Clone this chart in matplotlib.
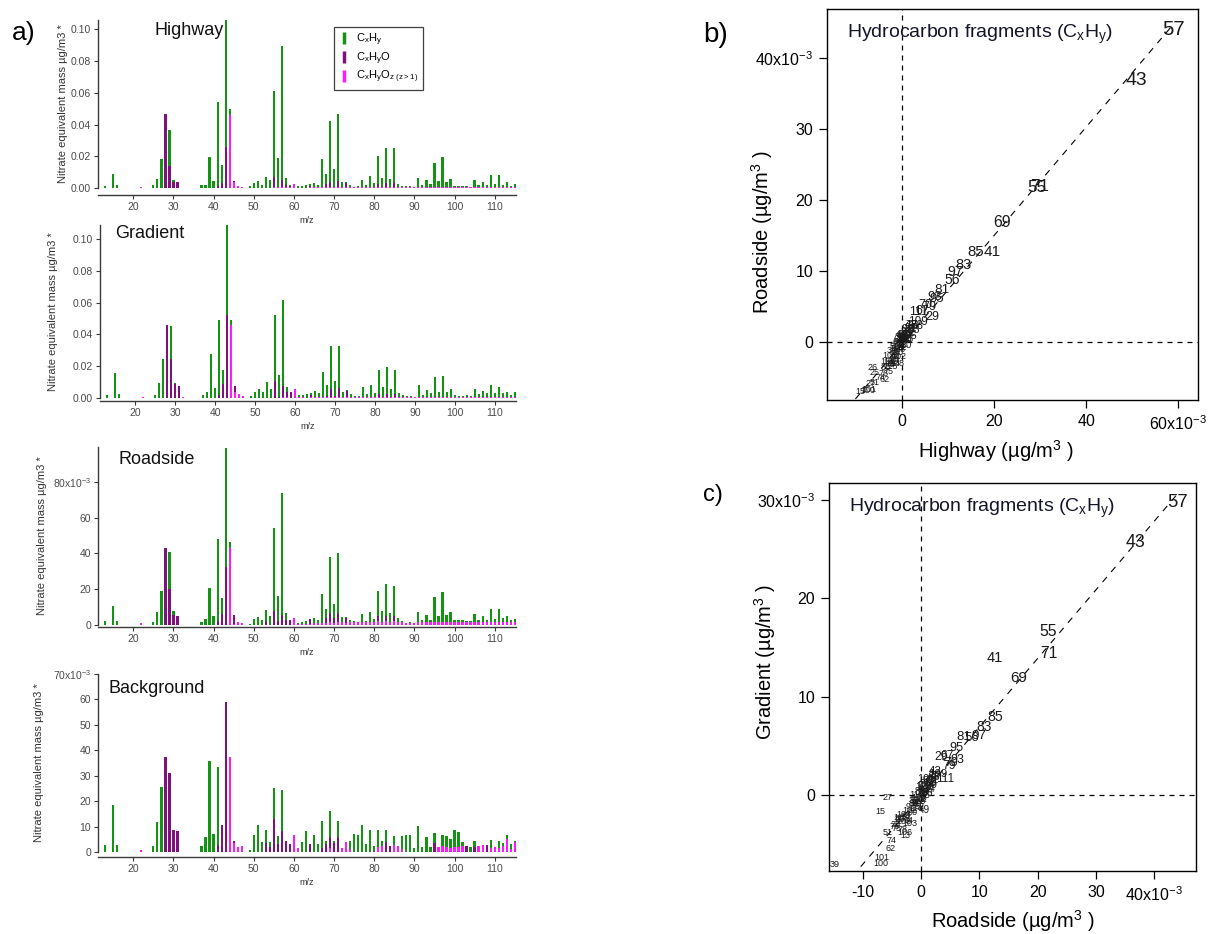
import numpy as np
import matplotlib
matplotlib.use('Agg')
import matplotlib.pyplot as plt
from matplotlib.lines import Line2D

plt.rcParams['font.family'] = ['Liberation Sans', 'DejaVu Sans']
plt.rcParams['mathtext.default'] = 'regular'

# m/z axis of the spectra (13..115)
mz = list(range(13, 116))

# spectra, units of 1e-3 ug/m3 (segment heights: CxHyOz bottom, CxHyO middle, CxHy top)
hwy_cxhy = [1, 0, 8.8, 1.7, 0, 0, 0,
            0, 0, 0, 0, 0, 1.7, 6, 18.3, 0, 23.2,
            0.8, 0, 0, 0, 0, 0, 0, 1.7, 2, 19.7,
            4.4, 53.2, 11.5, 80.9, 3.8, 0, 0, 0, 0, 1,
            3.2, 4.2, 1.9, 6.9, 5.2, 54.6, 18.4, 84.4, 4.5, 0.5,
            0, 1, 1, 2, 1.2, 2.7, 1.5, 17.6, 6.2, 38.7,
            11.2, 42.1, 3.6, 0.5, 1.2, 0.3, 0.5, 4.3, 1.5, 6.9,
            2.5, 17.7, 5.7, 21.8, 5.1, 21.8, 1.8, 0.8, 0.5, 0.5,
            0.2, 6, 1.5, 4.3, 2, 15.4, 3.7, 19.2, 3.1, 5.2,
            1, 0.5, 1, 1, 0.3, 4.6, 1.4, 3.5, 1.4, 7.8,
            2, 7.8, 1.5, 3.4, 1, 2]
hwy_cxhyo = [0, 0, 0, 0, 0, 0, 0,
             0, 0, 0, 0, 0, 0, 0, 0, 46.6, 13.6,
             4, 3.8, 0, 0, 0, 0, 0, 0, 0, 0,
             0, 1, 3, 25.8, 0, 0.5, 0, 0, 0, 0,
             0, 0, 0, 0, 0, 6.2, 0, 4.8, 1.5, 0.8,
             0, 0, 0, 0, 0.7, 0, 0, 0, 2, 3,
             0, 4, 0, 2.5, 0, 0, 0, 0, 0, 0,
             0, 2, 0, 2.8, 0, 2.7, 0, 0, 0, 0,
             0, 0, 0, 0, 0, 0, 0, 0, 0, 0,
             0, 0, 0, 0, 0, 0, 0, 0, 0, 0,
             0, 0, 0, 0, 0, 0]
hwy_cxhyoz = [0, 0, 0, 0, 0, 0, 0,
              0, 0, 0.6, 0, 0, 0, 0, 0, 0, 0,
              0, 0, 0, 0, 0, 0, 0, 0, 0, 0,
              0, 0, 0, 0, 46.2, 3.9, 1, 0.8, 0, 0,
              0, 0, 0, 0, 0, 0.5, 0.5, 0.5, 0.5, 0.4,
              2.7, 0, 0, 0, 0.5, 0.5, 0.5, 0.5, 0.5, 0.5,
              0.5, 0.5, 0.5, 0.5, 0.5, 0.5, 0.5, 0.5, 0.5, 0.5,
              0.5, 0.5, 0.5, 0.5, 0.5, 0.5, 0.5, 0.5, 0.5, 0.5,
              0.5, 0.5, 0.5, 0.5, 0.5, 0.5, 0.5, 0.5, 0.5, 0.5,
              0.5, 0.5, 0.5, 0.5, 0.5, 0.5, 0.5, 0.5, 0.5, 0.5,
              0.5, 0.5, 0.5, 0.5, 0.5, 0.5]

grd_cxhy = [2, 0, 16, 2.7, 0, 0, 0,
            0, 0, 0, 0, 0, 2, 9.6, 24.7, 0, 21,
            0.8, 0, 0, 0, 0, 0, 0, 2, 4, 27.9,
            6.5, 47.3, 9.3, 56.6, 3.3, 0.3, 0, 0, 0, 1,
            4, 5.9, 3.6, 9.8, 5.4, 42, 14.2, 53.9, 3.6, 0,
            0, 1.4, 1.5, 2.6, 1, 3.9, 2.4, 16.1, 7.4, 27.5,
            9.5, 26.4, 3.5, 0.5, 2, 1, 1, 6.2, 2.2, 7.7,
            2.6, 15.1, 6.2, 17.2, 5.2, 15.1, 2.4, 1.5, 0.5, 1,
            0.3, 7.7, 1.5, 4.5, 2.4, 13, 3.5, 13.6, 3.5, 5.2,
            1.4, 1, 1, 1.4, 1, 5.4, 1.8, 3.7, 2.4, 7.7,
            2.4, 6.6, 2.4, 3.5, 1.5, 3.3]
grd_cxhyo = [0, 0, 0, 0, 0, 0, 0,
             0, 0, 0, 0, 0, 0, 0, 0, 46.1, 24.5,
             8.8, 7.8, 0, 0, 0, 0, 0, 0, 0, 0,
             0, 2, 8.5, 52, 0, 4, 0, 0, 0, 0,
             0, 0, 0, 0, 0, 10.5, 0.5, 7, 3, 3.6,
             0, 0, 0, 0, 1.6, 0, 0, 0, 0.5, 5,
             0.5, 6, 0, 4.1, 0, 0, 0, 0, 0, 0,
             0, 2, 0, 2, 0, 2, 0, 0, 0, 0,
             0, 0, 0, 0, 0, 0, 0, 0, 0, 0,
             0, 0, 0, 0, 0, 0, 0, 0, 0, 0,
             0, 0, 0, 0, 0, 0]
grd_cxhyoz = [0, 0, 0, 0, 0, 0, 0,
              0, 0, 0.8, 0, 0, 0, 0, 0, 0, 0,
              0, 0, 0.5, 0, 0, 0, 0, 0, 0, 0,
              0, 0, 0, 0, 46, 3.5, 2.5, 1.5, 0, 0,
              0, 0, 0, 0, 0, 0, 0, 0.5, 0.5, 0,
              5.9, 0.5, 0.5, 0, 0.5, 0.5, 0.5, 0.5, 0.5, 0.5,
              0.5, 0.5, 0.5, 0.5, 0.5, 0.5, 0.5, 0.5, 0.5, 0.5,
              0.5, 0.5, 0.5, 0.5, 0.5, 0.5, 0.5, 0.5, 0.5, 0.5,
              0.5, 0.5, 0.5, 0.5, 0.5, 0.5, 0.5, 0.5, 0.5, 0.5,
              0.5, 0.5, 0.5, 0.5, 0.5, 0.5, 0.5, 0.5, 0.5, 0.5,
              0.5, 0.5, 0.5, 0.5, 0.5, 0.5]

rds_cxhy = [2.2, 0, 10.8, 2.2, 0, 0, 0,
            0, 0, 0, 0, 0, 1.7, 7.3, 19.1, 0, 20.4,
            2.2, 0, 0, 0, 0, 0, 0, 1.9, 3.4, 20.7,
            5, 45.9, 8.9, 66.3, 3.5, 0, 0, 0, 0, 0.7,
            3.6, 4.5, 2.8, 6.5, 5.3, 46.2, 14.3, 68.3, 3.8, 0,
            0, 0.8, 1.4, 1.7, 0.1, 3.1, 1.8, 16.6, 5.2, 31.3,
            8, 33, 3, 0.5, 1.3, 0.7, 0.2, 4.5, 0.7, 5.8,
            2.1, 14.3, 6.4, 18.2, 5.2, 17, 2.4, 0.7, 0.3, 0.7,
            0, 5.8, 1.3, 4.1, 1.3, 14.4, 3.7, 17.2, 4.1, 5.8,
            1.3, 1.3, 1.3, 0.7, 0.7, 4.9, 1.3, 3.7, 1.3, 7.5,
            1.9, 7.5, 2.6, 3.5, 1.3, 2.1]
rds_cxhyo = [0, 0, 0, 0, 0, 0, 0,
             0, 0, 0, 0, 0, 0, 0, 0, 43, 20.2,
             5.6, 5, 0, 0, 0, 0, 0, 0, 0, 0,
             0, 2, 6.2, 32.7, 0, 5, 0, 0, 0, 0,
             0, 0, 0, 2, 0, 7.9, 2, 5.6, 3, 2.8,
             0, 0, 0, 0, 3, 0, 0, 0, 3, 5,
             3, 5.5, 0, 3, 0, 0, 0, 0, 0, 0,
             0, 3, 0, 3, 0, 3, 0, 0, 0, 0,
             0, 0, 0, 0, 0, 0, 0, 0, 0, 0,
             0, 0, 0, 0, 0, 0, 0, 0, 0, 0,
             0, 0, 0, 0, 0, 0]
rds_cxhyoz = [0, 0, 0, 0, 0, 0, 0,
              0, 0, 1, 0, 0, 0, 0, 0, 0, 0,
              0, 0, 0, 0, 0, 0, 0, 0, 0, 0,
              0, 0, 0, 0, 43, 0.6, 1.7, 1, 0, 0,
              0, 0, 0, 0, 0, 0, 0, 0, 0, 0,
              4.1, 0.5, 0.5, 0.5, 0.5, 1, 1, 1, 1, 1.5,
              1, 1.5, 1.5, 1, 1.5, 1.5, 1.5, 1.5, 1.5, 1.5,
              1.5, 2, 1.5, 2, 1.5, 2, 1.5, 1.5, 1, 1,
              1, 1.5, 1.5, 1.5, 1.5, 1.5, 1.5, 1.5, 1.5, 1.5,
              1.5, 1.5, 1.5, 1.5, 1.5, 1.5, 1.5, 1.5, 1.5, 1.5,
              1.5, 1.5, 1.5, 1.5, 1.5, 1.5]

bkg_cxhy = [2.9, 0, 18.3, 2.9, 0, 0, 0,
            0, 0, 0, 0, 0, 2.5, 11.6, 25.5, 0, 0,
            0, 0, 0, 0, 0, 0, 0, 2.5, 5.8, 35.7,
            7.2, 30.4, 0, 0, 0, 0, 0, 0, 0, 0.9,
            6.5, 10.5, 3.8, 5, 1.8, 12.2, 3.1, 16.3, 0, 0,
            0, 0, 3.8, 8.1, 0, 6.5, 3.1, 10.5, 1.2, 10.3,
            0.7, 6, 0, 0, 3.2, 7.2, 6.8, 10.5, 3.1, 8.5,
            1.7, 6.8, 1.7, 4.8, 0, 3.4, 0, 5.1, 6.5, 6.5,
            1.6, 10.1, 1.8, 5.8, 1.8, 4, 0, 4, 4.1, 3.7,
            6.5, 5.7, 1.3, 0, 1.8, 2.2, 0, 0, 0, 3.3,
            0, 2.7, 1, 1.8, 2.1, 0.6]
bkg_cxhyo = [0, 0, 0, 0, 0, 0, 0,
             0, 0, 0, 0, 0, 0, 0, 0, 37.3, 31.2,
             8.5, 8.1, 0, 0, 0, 0, 0, 0, 0, 0,
             0, 2.9, 10.5, 58.8, 0, 0.5, 0, 0, 0, 0,
             0, 0, 0, 3.5, 2, 12.9, 3, 8.1, 4.2, 3.1,
             0, 0, 0, 0, 3.1, 0, 0, 1.5, 3, 4.5,
             3.5, 6, 0, 0, 0, 0, 0, 0, 0, 0,
             0.5, 0, 0, 4, 2.2, 0, 0, 0, 0, 0,
             0, 0, 0, 0, 0, 3.5, 0, 0, 0, 0,
             0, 0, 0, 2.5, 0, 2, 0, 0, 2.9, 0,
             0, 0, 0, 0, 0, 0]
bkg_cxhyoz = [0, 0, 0, 0, 0, 0, 0,
              0, 0, 0.9, 0, 0, 0, 0, 0, 0, 0,
              0, 0, 0, 0, 0, 0, 0, 0, 0, 0,
              0, 0, 0, 0, 37.3, 3.7, 1.8, 2.2, 0, 0,
              0, 0, 0, 0, 0, 0, 0, 0, 0, 0,
              6.5, 1.4, 0, 0, 0, 0, 0, 0, 0, 1.5,
              0, 0, 1.4, 3.8, 1, 0, 0, 0, 0, 0,
              0, 2, 2.5, 0, 0, 2.7, 2.5, 1, 0, 0,
              0, 0, 0, 0, 0, 0, 1.8, 2.5, 2, 1.5,
              2, 2, 2.5, 0, 0, 0, 2.2, 2.9, 0, 1.5,
              1.8, 1.5, 2.5, 5, 1, 3.8]

# hydrocarbon fragments per site (1e-3 ug/m3)
frag_mz = [57, 43, 55, 71, 69, 41, 85, 83, 97, 56, 81, 95, 93, 79, 70, 67, 29,
           111, 109, 68, 42, 77, 53, 91, 99, 82, 84, 105, 58, 107, 113, 65, 96,
           38, 54, 63, 98, 72, 66, 86, 87, 110, 52, 49, 112, 50, 114, 88, 37, 89,
           90, 92, 103, 102, 94, 64, 13, 106, 104, 108, 78, 115, 26, 80, 75, 25,
           76, 74, 62, 51, 27, 101, 100, 15, 39]
frag_hwy = [59.0, 51.0, 29.3, 29.8, 21.7, 19.6, 16.0, 13.3, 11.5, 10.9, 8.7, 7.6, 7.2, 5.9, 5.0, 4.5, 6.6,
            3.6, 3.5, 3.2, 2.0, 2.2, 2.5, 1.8, 1.2, 1.6, 0.9, 1.4, 1.0, 0.6, 0.8, 0.3, -0.3,
            -0.4, 0.1, -0.6, 0.4, -0.1, -1.0, -0.2, -0.9, 0.5, 0.2, 0.5, -0.5, -1.5, -1.2, -0.3, -2.2, -1.4,
            -0.7, -1.8, -2.6, -0.8, -1.3, -1.7, -3.0, -3.0, -2.0, -1.1, -2.6, -2.4, -6.4, -3.5, -3.0, -6.0,
            -4.1, -4.6, -3.8, -6.0, -6.8, -7.2, -7.5, -9.0, -12.0]
frag_road = [44.0, 36.8, 21.8, 21.9, 16.8, 12.6, 12.7, 10.8, 9.9, 8.7, 7.3, 6.0, 6.3, 4.9, 5.2, 4.4, 3.5,
             4.2, 2.8, 2.2, 2.4, 2.4, 1.6, 2.0, 1.8, 1.2, 1.4, 0.8, 0.4, 0.9, 0.4, 1.0, 0.7,
             0.6, 0.5, 0.3, 0.2, 0.2, 0.0, -0.2, -0.4, -0.5, -0.3, 0.6, -0.8, -0.7, -0.9, -1.1, -1.2, -1.3,
             -1.5, -1.8, -1.9, -2.0, -2.2, -2.6, -2.7, -2.8, -3.0, -3.0, -3.2, -3.5, -3.6, -3.6, -4.2, -4.3,
             -4.5, -5.0, -5.3, -5.7, -5.8, -6.7, -6.9, -7.0, -14.8]
frag_grad = [29.7, 25.7, 16.6, 14.4, 11.9, 13.9, 7.9, 6.9, 6.0, 5.8, 5.9, 4.8, 3.6, 3.0, 3.3, 4.0, 3.9,
             1.6, 2.1, 1.8, 2.5, 1.9, 1.2, 1.5, 1.0, 1.4, 0.6, 1.6, 0.2, 0.5, 0.8, 0.2, 1.1,
             0.0, 0.4, 0.9, -0.3, -0.4, -0.6, 0.3, -1.0, -0.2, -1.2, -1.5, 0.1, -0.9, -1.4, -0.5, -0.5, -0.9,
             -1.8, -1.2, -2.9, -1.6, -2.6, -2.2, -4.1, -3.8, -2.0, -2.7, -3.5, -2.3, -2.5, -2.4, -3.4, -3.0,
             -3.2, -4.6, -5.4, -3.8, -0.2, -6.3, -6.9, -1.7, -7.0]

GREEN = '#139413'
PURPLE = '#7d117d'
MAGENTA = '#ff19ff'
AXC = '#3a3a3a'

fig = plt.figure(figsize=(12.08, 9.34), dpi=100)


def spectrum(rect, green, purple, magenta, top, name, name_xy, yticks, yticklabels, offset, ylab_x):
    ax = fig.add_axes(rect)
    g = np.array(green)
    p = np.array(purple)
    m = np.array(magenta)
    ax.bar(mz, m, width=0.55, color=MAGENTA, linewidth=0)
    ax.bar(mz, p, width=0.55, bottom=m, color=PURPLE, linewidth=0)
    ax.bar(mz, g, width=0.55, bottom=m + p, color=GREEN, linewidth=0)
    ax.set_xlim(11.2, 115.3)
    ax.set_ylim(0, top)
    for s in ['top', 'right']:
        ax.spines[s].set_visible(False)
    ax.spines['bottom'].set_position(('outward', offset))
    for s in ['left', 'bottom']:
        ax.spines[s].set_color(AXC)
        ax.spines[s].set_linewidth(1.0)
    ax.set_xticks(range(20, 111, 10))
    ax.set_yticks(yticks)
    ax.set_yticklabels(yticklabels)
    ax.tick_params(direction='out', length=3, width=0.8, color=AXC, labelcolor='#4a4a4a',
                   labelsize=7.5, pad=2)
    ax.set_xlabel('m/z', fontsize=6.5, color='#333333', labelpad=3)
    ax.set_ylabel('Nitrate equivalent mass µg/m3 *', fontsize=8, color='#333333')
    ax.yaxis.set_label_coords(ylab_x, 0.5)
    ax.text(name_xy[0], name_xy[1], name, transform=ax.transAxes, fontsize=13,
            ha='left', va='center', color='#111111')
    return ax


fmt2 = ['0.00', '0.02', '0.04', '0.06', '0.08', '0.10']
ax1 = spectrum([0.0811, 0.7987, 0.346, 0.1799], hwy_cxhy, hwy_cxhyo, hwy_cxhyoz, 106,
               'Highway', (0.136, 0.94), [0, 20, 40, 60, 80, 100], fmt2, 5, -0.072)
ax2 = spectrum([0.0828, 0.5739, 0.3444, 0.1852], grd_cxhy, grd_cxhyo, grd_cxhyoz, 108.8,
               'Gradient', (0.036, 0.95), [0, 20, 40, 60, 80, 100], fmt2, 2, -0.10)
ax3 = spectrum([0.0811, 0.3308, 0.346, 0.1906], rds_cxhy, rds_cxhyo, rds_cxhyoz, 99.5,
               'Roadside', (0.048, 0.93), [0, 20, 40, 60, 80],
               ['0', '20', '40', '60', '80x10$^{-3}$'], 1.5, -0.122)
ax4 = spectrum([0.0811, 0.0878, 0.346, 0.1906], bkg_cxhy, bkg_cxhyo, bkg_cxhyoz, 70,
               'Background', (0.024, 0.92), [0, 10, 20, 30, 40, 50, 60, 70],
               ['0', '10', '20', '30', '40', '50', '60', '70x10$^{-3}$'], 3.6, -0.13)

handles = [Line2D([], [], marker='|', linestyle='None', markersize=8, mew=2.5, color=c)
           for c in [GREEN, PURPLE, MAGENTA]]
labels = ['C$_x$H$_y$', 'C$_x$H$_y$O', 'C$_x$H$_y$O$_{z\\ (z>1)}$']
leg = ax1.legend(handles, labels, loc='upper left', bbox_to_anchor=(0.552, 0.99),
                 fontsize=8, frameon=True, fancybox=False, edgecolor='#111111',
                 handlelength=1.0, handletextpad=0.6, borderpad=0.4, labelspacing=0.2)
leg.get_frame().set_linewidth(0.9)


def frag_panel(rect, xs, ys, xlim, ylim, xticks, xtl, yticks, ytl, xlabel, ylabel,
               xlab_x, ylab_y):
    ax = fig.add_axes(rect)
    ax.set_xlim(xlim)
    ax.set_ylim(ylim)
    ax.axhline(0, color='k', lw=0.9, ls=(0, (4, 4)))
    ax.axvline(0, color='k', lw=0.9, ls=(0, (4, 4)))
    slope, icpt = np.polyfit(xs, ys, 1)
    xx = np.array([min(xs), max(xs)])
    ax.plot(xx, slope * xx + icpt, color='k', lw=0.8, ls=(0, (6, 6)))
    for lab, x, y in zip(frag_mz, xs, ys):
        fs = 6.5 + 0.8 * np.sqrt(max(x, 0) + max(y, 0))
        ax.text(x, y, str(lab), fontsize=fs, ha='center', va='center', color='#1a1a1a',
                clip_on=True)
    ax.set_xticks(xticks)
    ax.set_xticklabels(xtl)
    ax.set_yticks(yticks)
    ax.set_yticklabels(ytl)
    ax.tick_params(direction='out', length=6, width=0.9, labelsize=11.5, pad=4)
    for s in ax.spines.values():
        s.set_linewidth(1.0)
    ax.set_xlabel(xlabel, fontsize=14.5)
    ax.set_ylabel(ylabel, fontsize=14.5)
    ax.xaxis.set_label_coords(xlab_x, -0.097)
    ax.yaxis.set_label_coords(-0.14, ylab_y)
    ax.text(0.054, 0.935, 'Hydrocarbon fragments (C$_x$H$_y$)', transform=ax.transAxes,
            fontsize=14, ha='left', va='center', color='#15152a')
    return ax


axb = frag_panel([0.6846, 0.5717, 0.3071, 0.4186], frag_hwy, frag_road,
                 (-16.3, 64.3), (-8.2, 46.9), [0, 20, 40, 60],
                 ['0', '20', '40', '60x10$^{-3}$'], [0, 10, 20, 30, 40],
                 ['0', '10', '20', '30', '40x10$^{-3}$'],
                 'Highway (µg/m$^3$ )', 'Roadside (µg/m$^3$ )', 0.455, 0.43)
axc = frag_panel([0.6863, 0.0675, 0.3038, 0.4154], frag_road, frag_grad,
                 (-15.8, 47.2), (-7.7, 31.7), [-10, 0, 10, 20, 30, 40],
                 ['-10', '0', '10', '20', '30', '40x10$^{-3}$'], [0, 10, 20, 30],
                 ['0', '10', '20', '30x10$^{-3}$'],
                 'Roadside (µg/m$^3$ )', 'Gradient (µg/m$^3$ )', 0.5, 0.54)

fig.text(0.010, 0.965, 'a)', fontsize=19, ha='left', va='center')
fig.text(0.582, 0.962, 'b)', fontsize=20, ha='left', va='center')
fig.text(0.582, 0.470, 'c)', fontsize=17, ha='left', va='center')

fig.savefig('out.png', dpi=100)
